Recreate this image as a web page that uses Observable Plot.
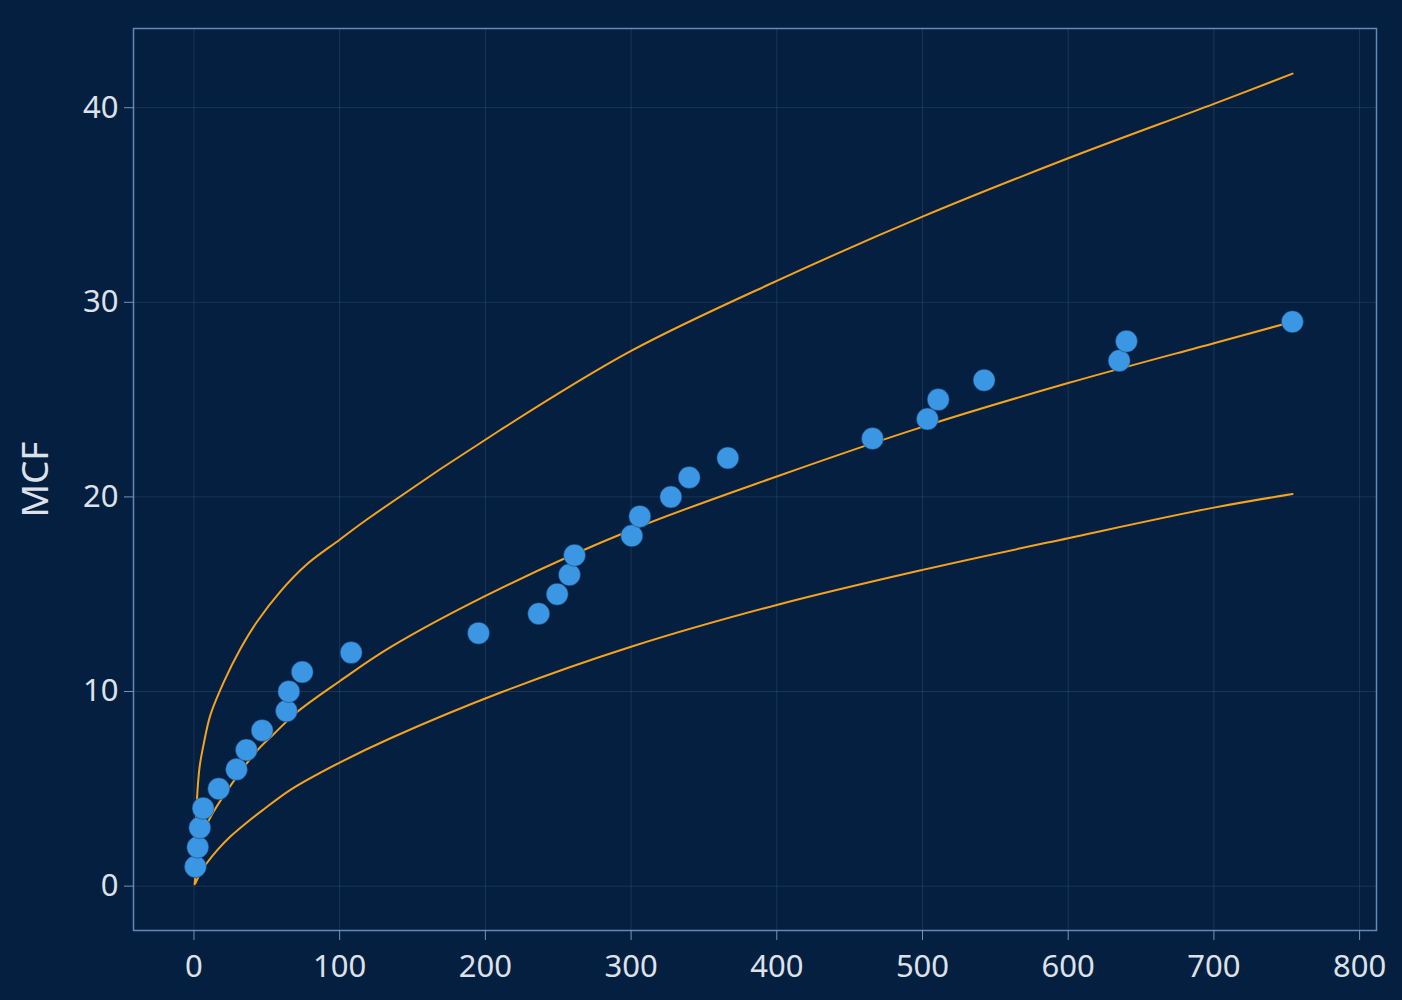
<!DOCTYPE html>
<html>
<head>
<meta charset="utf-8">
<script src="https://cdn.jsdelivr.net/npm/d3@7"></script>
<script src="https://cdn.jsdelivr.net/npm/@observablehq/plot@0.6"></script>
<style>
  html, body { margin: 0; padding: 0; background: #041f3f; }
  #chart { width: 1402px; height: 1000px; }
</style>
</head>
<body>
<div id="chart"></div>
<script>
// Event times and cumulative counts (MCF)
const eventTimes = [1.0, 2.6, 4.0, 6.3, 17.0, 29.2, 36.0, 46.8, 63.5, 65.1, 74.3, 107.9, 195.3, 236.6, 249.3, 257.7, 261.2, 300.5, 306.0, 327.3, 339.9, 366.4, 465.7, 503.4, 510.8, 542.3, 635.0, 640.0, 753.9];
const mcfValues  = [1, 2, 3, 4, 5, 6, 7, 8, 9, 10, 11, 12, 13, 14, 15, 16, 17, 18, 19, 20, 21, 22, 23, 24, 25, 26, 27, 28, 29];

// Fitted curve (middle)
const fitX = [0.5, 4, 10.2, 25, 43.4, 54.8, 70.8, 100, 134.9, 210.5, 300, 400, 500, 600, 700, 754];
const fitY = [0.1, 2.1, 3.38, 5.15, 6.97, 7.82, 8.95, 10.53, 12.28, 15.3, 18.3, 21.05, 23.6, 25.85, 27.9, 29.0];

// Upper bound curve
const upperX = [1.5, 2.5, 4, 6.8, 11.3, 20.5, 31.9, 43.4, 59.4, 77.7, 100, 118.9, 210.5, 300, 400, 500, 600, 700, 754];
const upperY = [3.5, 5.0, 6.2, 7.35, 8.8, 10.5, 12.2, 13.6, 15.15, 16.55, 17.8, 18.85, 23.45, 27.5, 31.1, 34.4, 37.4, 40.2, 41.75];

// Lower bound curve
const lowerX = [1, 5, 9, 16, 25, 37.6, 48, 66.2, 100, 134.9, 210.5, 300, 400, 500, 600, 700, 754];
const lowerY = [0.15, 0.75, 1.2, 1.85, 2.55, 3.35, 3.95, 4.95, 6.35, 7.6, 9.95, 12.3, 14.45, 16.25, 17.88, 19.45, 20.15];

const xTicks = [0, 100, 200, 300, 400, 500, 600, 700, 800];
const yTicks = [0, 10, 20, 30, 40];

const points = eventTimes.map((t, i) => ({time: t, mcf: mcfValues[i]}));
const toRows = (xs, ys) => xs.map((x, i) => ({x, y: ys[i]}));
const fitRows = toRows(fitX, fitY);
const upperRows = toRows(upperX, upperY);
const lowerRows = toRows(lowerX, lowerY);

const tickColor = "#6f95c6";
const textColor = "#dde2ea";
const curveColor = "#f5a31f";

const chart = Plot.plot({
  width: 1402,
  height: 1000,
  marginLeft: 133,
  marginRight: 26,
  marginTop: 28,
  marginBottom: 70,
  style: {
    background: "#041f3f",
    fontFamily: "'Noto Sans', sans-serif",
    color: textColor,
    overflow: "visible"
  },
  x: {domain: [-41.5, 811.6]},
  y: {domain: [-2.28, 44.07]},
  marks: [
    Plot.gridX(xTicks, {stroke: "#7f9fc8", strokeOpacity: 0.18, strokeWidth: 1}),
    Plot.gridY(yTicks, {stroke: "#7f9fc8", strokeOpacity: 0.18, strokeWidth: 1}),
    Plot.frame({stroke: tickColor, strokeWidth: 1.5, strokeOpacity: 0.9}),
    Plot.axisX(xTicks, {
      tickSize: 10, tickPadding: 14, stroke: tickColor, fill: textColor,
      fontSize: 31, label: null, tickFormat: d3.format("d")
    }),
    Plot.axisY(yTicks, {
      tickSize: 9, tickPadding: 6, stroke: tickColor, fill: textColor,
      fontSize: 31, tickFormat: d3.format("d"),
      label: "MCF", labelAnchor: "center", labelArrow: "none", labelOffset: 112
    }),
    Plot.line(upperRows, {x: "x", y: "y", stroke: curveColor, strokeWidth: 2, curve: "catmull-rom"}),
    Plot.line(fitRows, {x: "x", y: "y", stroke: curveColor, strokeWidth: 2, curve: "catmull-rom"}),
    Plot.line(lowerRows, {x: "x", y: "y", stroke: curveColor, strokeWidth: 2, curve: "catmull-rom"}),
    Plot.dot(points, {x: "time", y: "mcf", r: 11, fill: "#3b96e3", stroke: "#0d3560", strokeWidth: 0.8, strokeOpacity: 0.6})
  ]
});

// enlarge the axis label font
d3.select(chart).selectAll("g[aria-label='y-axis label'] text").attr("font-size", 37);
document.getElementById("chart").appendChild(chart);
</script>
</body>
</html>
